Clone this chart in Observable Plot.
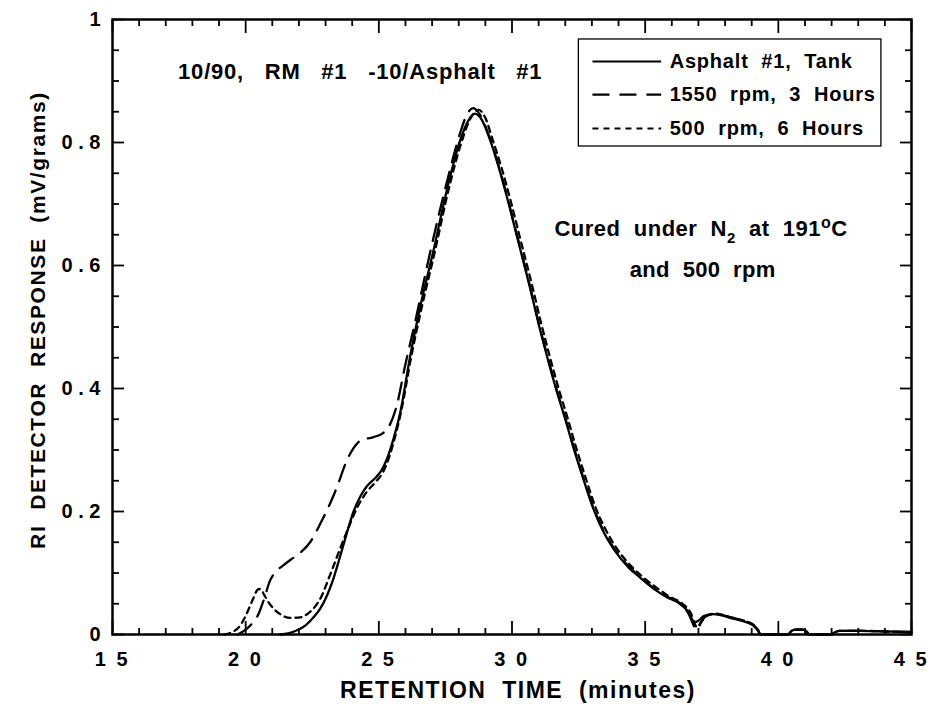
<!DOCTYPE html>
<html><head><meta charset="utf-8">
<script src="https://cdn.jsdelivr.net/npm/d3@7"></script>
<script src="https://cdn.jsdelivr.net/npm/@observablehq/plot@0.6"></script>
<style>
body{margin:0;background:#fff;}
#chart{width:936px;height:707px;}
svg text{white-space:pre;}
</style></head><body><div id="chart"></div>
<script>
// ---- data (retention time in minutes, RI response in mV/grams) ----
const seriesNames = ["Asphalt  #1,  Tank", "1550  rpm,  3  Hours", "500  rpm,  6  Hours"];

const tankT = [21.3,21.6,21.93,22.25,22.55,22.8,23.05,23.25,23.43,23.6,23.8,24.05,24.3,24.55,24.92,25.1,25.3,25.55,25.8,26.17,26.55,27.05,27.55,28.05,28.35,28.6,28.85,29.17,29.5,29.85,30.2,30.67,31.0,31.3,31.65,32.0,32.3,32.7,33.05,33.4,33.8,34.4,34.8,35.3,35.8,36.3,36.6,36.86,37.05,37.2,37.55,38.3,38.8,39.05,39.24,39.33,40.36,40.5,40.67,40.92,41.05,41.17,41.98,42.15,42.3,43.0,44.0,45.0];
const tankV = [0,0.002,0.007,0.015,0.028,0.042,0.063,0.085,0.11,0.135,0.165,0.2,0.224,0.241,0.257,0.267,0.285,0.318,0.36,0.451,0.532,0.624,0.722,0.803,0.835,0.847,0.838,0.805,0.76,0.705,0.645,0.565,0.505,0.455,0.4,0.35,0.305,0.25,0.205,0.17,0.14,0.108,0.093,0.075,0.061,0.05,0.038,0.02,0.024,0.03,0.033,0.026,0.02,0.015,0.006,0,0,0.006,0.008,0.008,0.005,0,0,0.004,0.006,0.006,0.005,0.004];

const rpm1550T = [19.7,20.0,20.2,20.49,20.67,20.92,21.15,21.4,21.7,22.05,22.42,22.8,23.17,23.43,23.8,24.05,24.3,24.8,25.17,25.4,25.67,26.0,26.3,26.92,27.55,28.05,28.3,28.55,28.8,29.17,29.5,29.85,30.2,30.67,31.0,31.3,31.65,32.0,32.3,32.7,33.05,33.4,33.8,34.4,34.8,35.3,35.8,36.3,36.6,36.95,37.1,37.25,37.6,38.3,38.8,39.05,39.24,39.33,40.36,40.5,40.67,40.92,41.05,41.17,41.98,42.15,42.3,43.0,44.0,45.0];
const rpm1550V = [0,0.008,0.016,0.034,0.055,0.088,0.103,0.112,0.122,0.133,0.15,0.18,0.213,0.24,0.283,0.303,0.315,0.321,0.328,0.34,0.372,0.44,0.496,0.62,0.735,0.815,0.845,0.856,0.845,0.807,0.762,0.707,0.647,0.567,0.507,0.457,0.402,0.352,0.307,0.252,0.207,0.172,0.142,0.11,0.094,0.076,0.062,0.051,0.036,0.008,0.02,0.029,0.033,0.027,0.021,0.016,0.007,0,0,0.006,0.008,0.008,0.005,0,0,0.004,0.006,0.006,0.005,0.004];

const rpm500T = [19.2,19.5,19.75,19.95,20.15,20.3,20.45,20.55,20.7,20.85,21.05,21.3,21.67,22.05,22.42,22.8,23.17,23.55,23.92,24.17,24.55,24.92,25.17,25.4,25.6,25.85,26.2,26.6,27.1,27.6,28.1,28.45,28.75,29.0,29.27,29.6,29.95,30.3,30.77,31.1,31.4,31.75,32.1,32.4,32.8,33.15,33.5,33.9,34.5,34.9,35.4,35.9,36.4,36.7,36.95,37.1,37.3,37.6,38.3,38.8,39.05,39.24,39.33,40.36,40.5,40.67,40.92,41.05,41.17,41.98,42.15,42.3,43.0,44.0,45.0];
const rpm500V = [0,0.004,0.012,0.026,0.045,0.06,0.073,0.074,0.064,0.053,0.042,0.033,0.027,0.028,0.037,0.058,0.097,0.14,0.18,0.205,0.232,0.25,0.265,0.29,0.32,0.365,0.448,0.53,0.622,0.72,0.8,0.84,0.853,0.84,0.805,0.76,0.705,0.645,0.565,0.505,0.455,0.4,0.35,0.305,0.25,0.205,0.172,0.142,0.11,0.094,0.077,0.062,0.05,0.036,0.012,0.02,0.03,0.034,0.027,0.021,0.016,0.007,0,0,0.006,0.008,0.008,0.005,0,0,0.004,0.006,0.006,0.005,0.004];

const xMajorTicks = [15,20,25,30,35,40,45];
const xMinorTicks = d3.range(15,46,1).filter(d => d % 5 !== 0);
const yMajorTicks = [0,0.2,0.4,0.6,0.8,1];
const yMinorTicks = [0.05,0.1,0.15,0.25,0.3,0.35,0.45,0.5,0.55,0.65,0.7,0.75,0.85,0.9,0.95];
const xLabel = "RETENTION  TIME  (minutes)";
const yLabel = "RI  DETECTOR  RESPONSE  (mV/grams)";
const titleText = "10/90,   RM   #1   -10/Asphalt   #1";
const noteLines = ["Cured  under  N2  at  191oC", "and  500  rpm"];
const dashes = [null, "17,10", "6,5"];

// ---- build ----
const toRows = (name, T, V) => T.map((t, i) => ({series: name, t, v: V[i]}));
const rows = [
  ...toRows(seriesNames[0], tankT, tankV),
  ...toRows(seriesNames[1], rpm1550T, rpm1550V),
  ...toRows(seriesNames[2], rpm500T, rpm500V)
];
const spaced = d => {
  if (d === 0) return "0";
  if (d === 1) return "1";
  return String(+d.toFixed(2)).split("").join(" ");
};
const spacedX = d => String(d).split("").join(" ");

const lineMarks = seriesNames.map((name, i) =>
  Plot.line(rows.filter(r => r.series === name), {
    x: "t", y: "v", stroke: "#000", strokeWidth: 2.3,
    strokeDasharray: dashes[i], curve: "monotone-x"
  })
);

// legend layout (in data units, inside the frame)
const legBox = {x1: 32.51, x2: 43.87, y1: 0.7935, y2: 0.9675};
const legRows = seriesNames.map((name, i) => ({name, i, y: [0.9317, 0.878, 0.8228][i]}));

const chart = Plot.plot({
  width: 936, height: 707,
  marginLeft: 112, marginRight: 25, marginTop: 19, marginBottom: 73,
  x: {domain: [15, 45]},
  y: {domain: [0, 1]},
  style: {fontFamily: "'Liberation Sans', Arial, Helvetica, sans-serif", fontWeight: "bold", fontSize: "20px", background: "#fff", color: "#000", overflow: "visible"},
  marks: [
    // ticks (inward) on all four sides
    Plot.axisX({ticks: xMajorTicks, anchor: "bottom", tickSize: -13, tickPadding: 30, tickFormat: spacedX, label: null, strokeWidth: 1.8, fontSize: 20}),
    Plot.axisX({ticks: xMinorTicks, anchor: "bottom", tickSize: -6, tickFormat: () => "", label: null, strokeWidth: 1.8}),
    Plot.axisX({ticks: xMajorTicks, anchor: "top", tickSize: -13, tickFormat: () => "", label: null, strokeWidth: 1.8}),
    Plot.axisX({ticks: xMinorTicks, anchor: "top", tickSize: -6, tickFormat: () => "", label: null, strokeWidth: 1.8}),
    Plot.axisY({ticks: yMajorTicks, anchor: "left", tickSize: -12, tickPadding: 24, tickFormat: spaced, label: null, strokeWidth: 1.8, fontSize: 20}),
    Plot.axisY({ticks: yMinorTicks, anchor: "left", tickSize: -7, tickFormat: () => "", label: null, strokeWidth: 1.8}),
    Plot.axisY({ticks: yMajorTicks, anchor: "right", tickSize: -12, tickFormat: () => "", label: null, strokeWidth: 1.8}),
    Plot.axisY({ticks: yMinorTicks, anchor: "right", tickSize: -7, tickFormat: () => "", label: null, strokeWidth: 1.8}),
    Plot.frame({stroke: "#000", strokeWidth: 2.5}),
    // curves
    ...lineMarks,
    // axis titles
    Plot.text([xLabel], {frameAnchor: "bottom", dx: 6, dy: 56, text: d => d, fontSize: 23, lineAnchor: "middle", textAnchor: "middle"}),
    Plot.text([yLabel], {frameAnchor: "left", dx: -74, dy: -7, rotate: -90, text: d => d, fontSize: 21, lineAnchor: "middle", textAnchor: "middle"}),
    // annotations
    Plot.text([titleText], {x: 24.3, y: 0.914, text: d => d, fontSize: 22, lineAnchor: "middle"}),
    Plot.text([noteLines[0]], {x: 37.1, y: 0.66, text: d => d, fontSize: 22, lineAnchor: "middle"}),
    Plot.text([noteLines[1]], {x: 37.16, y: 0.5935, text: d => d, fontSize: 22, lineAnchor: "middle"}),
    // legend
    Plot.rect([legBox], {x1: "x1", x2: "x2", y1: "y1", y2: "y2", fill: "#fff", stroke: "#000", strokeWidth: 1.3}),
    ...legRows.map(r => Plot.ruleY([r], {y: "y", x1: 33.04, x2: 35.62, stroke: "#000", strokeWidth: 2.2, strokeDasharray: dashes[r.i]})),
    Plot.text(legRows, {x: 35.92, y: "y", text: "name", textAnchor: "start", fontSize: 20, lineAnchor: "middle"})
  ]
});
document.getElementById("chart").appendChild(chart);

// letter spacing to match the reference's wide lettering
const spacing = new Map([
  [xLabel, 1.5], [yLabel, 1.6], [titleText, 0.8], [noteLines[0], 0.5], [noteLines[1], 0.3],
  ...seriesNames.map(n => [n, 0.8]),
  ...xMajorTicks.map(d => [spacedX(d), 2.5])
]);
chart.querySelectorAll("text").forEach(el => {
  const ls = spacing.get(el.textContent);
  if (ls) el.style.letterSpacing = ls + "px";
});
// subscript / superscript in the annotation
chart.querySelectorAll("text").forEach(el => {
  if (el.textContent === noteLines[0]) {
    el.textContent = "";
    const parts = [["Cured  under  N", 0, null], ["2", 7, 15], ["  at  191", -7, null], ["o", -8, 16], ["C", 8, null]];
    for (const [s, dy, fs] of parts) {
      const ts = document.createElementNS("http://www.w3.org/2000/svg", "tspan");
      ts.textContent = s;
      if (dy) ts.setAttribute("dy", dy);
      if (fs) ts.setAttribute("font-size", fs);
      el.appendChild(ts);
    }
  }
});
</script>
</body></html>
